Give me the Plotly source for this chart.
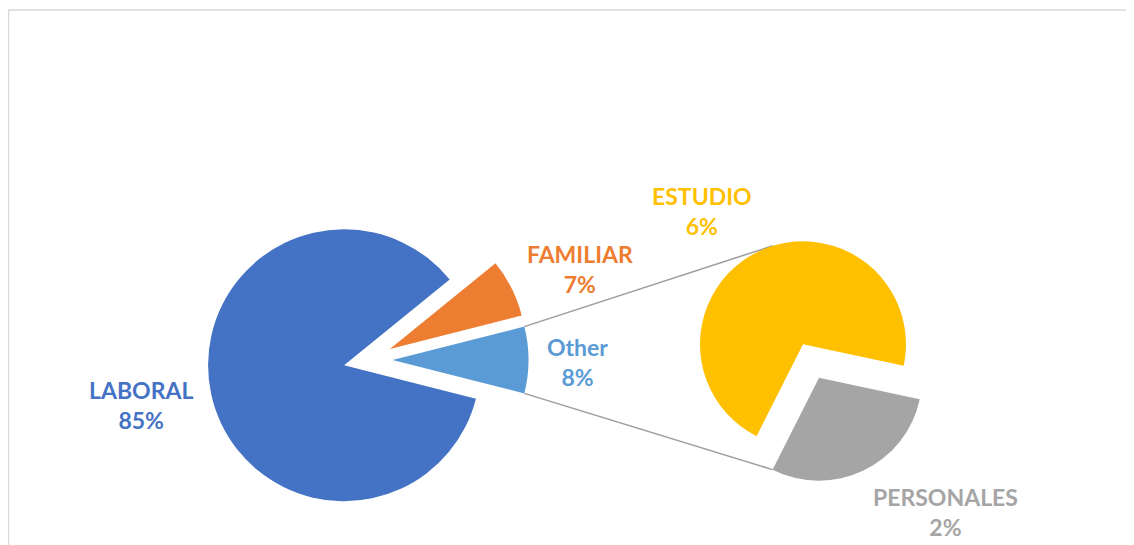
import math
import plotly.graph_objects as go

# ---------------- data ----------------
main_labels = ["Other", "LABORAL", "FAMILIAR"]
main_values = [7.9, 85.2, 6.9]
main_colors = ["#5B9BD5", "#4472C4", "#ED7D31"]

sec_labels = ["PERSONALES", "ESTUDIO"]
sec_values = [2.3, 5.6]
sec_colors = ["#A5A5A5", "#FFC000"]

# ---------------- layout geometry (pixels in the window) ----------------
OFF = 8                   # default page margin around the plot div
W, H = 1134, 545 - OFF    # figure size
PULL = 0.18
main_c = (368, 360)
main_r = 136
sec_c = (811, 361)
sec_r = 103
sec_rotation = 102

total = sum(main_values)
other_share = main_values[0] / total * 360
main_rotation = 90 - other_share / 2


def to_paper(p):
    return ((p[0] - OFF) / W, 1 - (p[1] - OFF) / H)


def domain(c, r):
    half = r * (1 + PULL)
    x0, y0 = to_paper((c[0] - half, c[1] + half))
    x1, y1 = to_paper((c[0] + half, c[1] - half))
    return dict(x=[x0, x1], y=[y0, y1])


fig = go.Figure()
fig.add_trace(go.Pie(
    labels=main_labels, values=main_values, sort=False, direction="clockwise",
    rotation=main_rotation, pull=[PULL] * len(main_values),
    marker=dict(colors=main_colors, line=dict(width=0)),
    textinfo="none", hoverinfo="label+percent", domain=domain(main_c, main_r),
    showlegend=False,
))
fig.add_trace(go.Pie(
    labels=sec_labels, values=sec_values, sort=False, direction="clockwise",
    rotation=sec_rotation, pull=[PULL] * len(sec_values),
    marker=dict(colors=sec_colors, line=dict(width=0)),
    textinfo="none", hoverinfo="label+value", domain=domain(sec_c, sec_r),
    showlegend=False,
))


def clock_pt(center, r, ang):
    a = math.radians(ang)
    return (center[0] + r * math.sin(a), center[1] - r * math.cos(a))


# connector lines from "Other" slice to the secondary pie
other_mid = main_rotation + other_share / 2
other_apex = clock_pt(main_c, PULL * main_r, other_mid)
top_start = clock_pt(other_apex, main_r, main_rotation)
bot_start = clock_pt(other_apex, main_r, main_rotation + other_share)

sec_total = sum(sec_values)
pers_span = sec_values[0] / sec_total * 360
pers_mid = sec_rotation + pers_span / 2
est_mid = sec_rotation + pers_span + (360 - pers_span) / 2
est_center = clock_pt(sec_c, PULL * sec_r, est_mid)
pers_center = clock_pt(sec_c, PULL * sec_r, pers_mid)
top_end = clock_pt(est_center, sec_r, 343)
bot_end = clock_pt(pers_center, sec_r, sec_rotation + pers_span)

shapes = []
for a, b in [(top_start, top_end), (bot_start, bot_end)]:
    pa, pb = to_paper(a), to_paper(b)
    shapes.append(dict(type="line", xref="paper", yref="paper",
                       x0=pa[0], y0=pa[1], x1=pb[0], y1=pb[1],
                       line=dict(color="#9C9C9C", width=1.5), layer="below"))

# chart border (left and top edges visible)
bx0, by0 = to_paper((8.5, 10))
shapes.append(dict(type="rect", xref="paper", yref="paper",
                   x0=bx0, y0=by0, x1=1.05, y1=-0.05,
                   line=dict(color="#D9D9D9", width=1.5)))

# data labels
label_pos = {
    "LABORAL": (141, 405),
    "FAMILIAR": (580, 269),
    "Other": (577, 362),
    "ESTUDIO": (702, 211),
    "PERSONALES": (945, 512),
}
annotations = []
for labels, values, colors in [(main_labels, main_values, main_colors),
                               (sec_labels, sec_values, sec_colors)]:
    for lab, val, col in zip(labels, values, colors):
        px, py = to_paper(label_pos[lab])
        pct = round(val / total * 100)
        annotations.append(dict(
            x=px, y=py, xref="paper", yref="paper", xanchor="center", yanchor="middle",
            text=f"{lab}<br>{pct}%", showarrow=False, align="center",
            font=dict(family="Lato", size=23, color=col, weight="bold"),
        ))

fig.update_layout(
    width=W, height=H, margin=dict(l=0, r=0, t=0, b=0),
    paper_bgcolor="white", plot_bgcolor="white",
    shapes=shapes, annotations=annotations, showlegend=False,
)

fig.write_html("out.html")
